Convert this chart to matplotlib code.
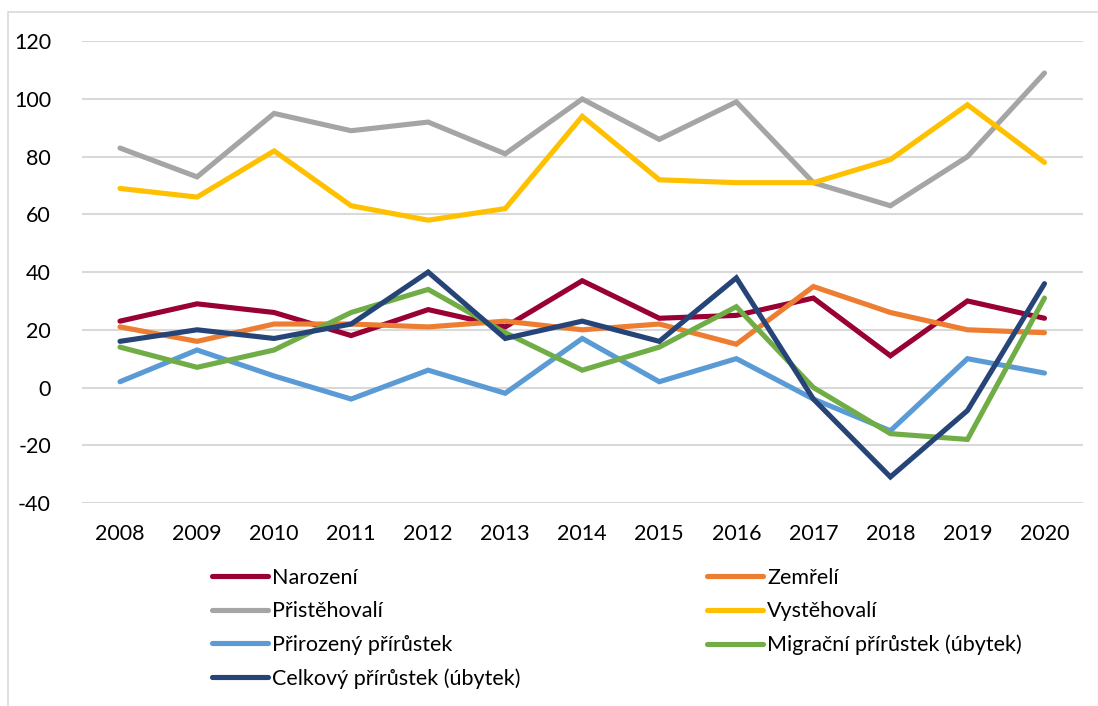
import matplotlib
matplotlib.use("Agg")
import matplotlib.pyplot as plt
from matplotlib.patches import Rectangle

years = ["2008", "2009", "2010", "2011", "2012", "2013", "2014",
         "2015", "2016", "2017", "2018", "2019", "2020"]
narozeni = [23, 29, 26, 18, 27, 21, 37, 24, 25, 31, 11, 30, 24]
zemreli = [21, 16, 22, 22, 21, 23, 20, 22, 15, 35, 26, 20, 19]
pristehovali = [83, 73, 95, 89, 92, 81, 100, 86, 99, 71, 63, 80, 109]
vystehovali = [69, 66, 82, 63, 58, 62, 94, 72, 71, 71, 79, 98, 78]
prirozeny = [2, 13, 4, -4, 6, -2, 17, 2, 10, -4, -15, 10, 5]
migracni = [14, 7, 13, 26, 34, 19, 6, 14, 28, 0, -16, -18, 31]
celkovy = [16, 20, 17, 22, 40, 17, 23, 16, 38, -4, -31, -8, 36]

series = [
    ("Narození", narozeni, "#990033"),
    ("Zemřelí", zemreli, "#ED7D31"),
    ("Přistěhovalí", pristehovali, "#A5A5A5"),
    ("Vystěhovalí", vystehovali, "#FFC000"),
    ("Přirozený přírůstek", prirozeny, "#5B9BD5"),
    ("Migrační přírůstek (úbytek)", migracni, "#70AD47"),
    ("Celkový přírůstek (úbytek)", celkovy, "#264478"),
]

plt.rcParams['font.family'] = ['Lato', 'DejaVu Sans']
plt.rcParams['axes.unicode_minus'] = False
FS = 15.5

fig = plt.figure(figsize=(10.98, 7.06), dpi=100)
W, H = 1098, 706
ax = fig.add_axes([81.5 / W, 1 - 502.9 / H, (1083 - 81.5) / W, (502.9 - 41.3) / H])

x = list(range(len(years)))
handles = {}
for name, vals, col in series:
    ln, = ax.plot(x, vals, color=col, lw=3.7, solid_capstyle='round',
                  solid_joinstyle='miter', label=name)
    handles[name] = ln

ax.set_xlim(-0.5, len(years) - 0.5)
ax.set_ylim(-40, 120)
ax.set_yticks(range(-40, 121, 20))
ax.set_xticks(x)
ax.set_xticklabels(years)
ax.yaxis.grid(True, color="#D9D9D9", lw=1.5)
ax.set_axisbelow(True)
for s in ax.spines.values():
    s.set_visible(False)
ax.tick_params(axis='both', length=0, labelsize=FS, colors="#000000")
ax.tick_params(axis='y', pad=22)
ax.tick_params(axis='x', pad=15)

# outer chart border
fig.add_artist(Rectangle((8 / W, -0.01), (W + 10 - 8) / W, 1 - 12 / H + 0.01,
                         transform=fig.transFigure, fill=False,
                         edgecolor="#D9D9D9", lw=1.2))

col1 = ["Narození", "Přistěhovalí", "Přirozený přírůstek", "Celkový přírůstek (úbytek)"]
col2 = ["Zemřelí", "Vystěhovalí", "Migrační přírůstek (úbytek)"]
common = dict(frameon=False, fontsize=FS, handlelength=2.6, handletextpad=0.2,
              labelspacing=0.62, borderaxespad=0, borderpad=0, loc='upper left')
fig.legend([handles[n] for n in col1], col1,
           bbox_to_anchor=(212 / W, 1 - 568 / H), **common)
fig.legend([handles[n] for n in col2], col2,
           bbox_to_anchor=(707 / W, 1 - 568 / H), **common)

fig.savefig("out.png", dpi=100)
